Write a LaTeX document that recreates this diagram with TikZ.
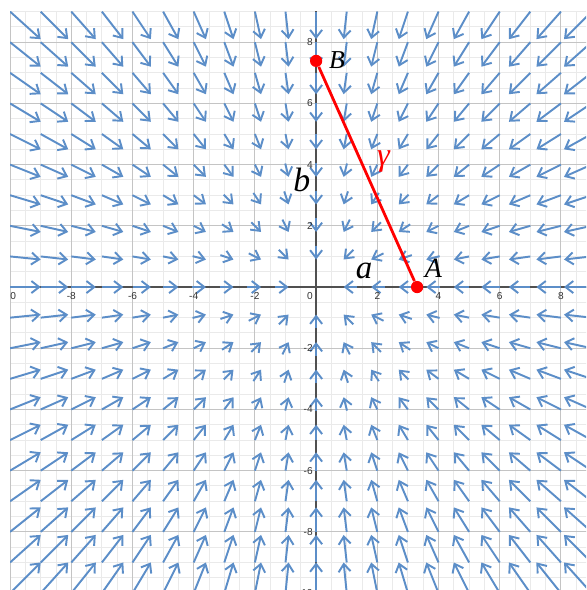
\documentclass[tikz,border=0pt]{standalone}
\usepackage{fontspec}
\setmainfont{Liberation Serif}
\newfontfamily\tickfont{Liberation Sans}
\usepackage{xcolor}
\usepackage{tikz}
\usetikzlibrary{arrows.meta, positioning}

\definecolor{fieldblue}{RGB}{92,142,200}
\definecolor{gridmajor}{RGB}{196,196,196}
\definecolor{gridminor}{RGB}{234,234,234}
\definecolor{axisgray}{RGB}{80,80,80}

\begin{document}
\begin{tikzpicture}[x=0.5cm, y=0.5cm,
        vec/.style={draw=fieldblue, line width=0.9pt, -{Straight Barb[length=3.6pt, width=5.6pt]}},
        pt/.style={circle, fill=red, inner sep=0pt, minimum size=0.2cm},
        ticklbl/.style={font=\tickfont\fontsize{4.7}{5}\selectfont, text=black!80, inner sep=0pt},
        lbl/.style={inner sep=0pt, font=\itshape}]

        \useasboundingbox (-10.33,-9.90) rectangle (8.82,9.38);

        \begin{scope}
        \clip (-10,-9.90) rectangle (8.82,9);
        \draw[gridminor, line width=0.45pt, step=0.5] (-11,-11) grid (10,10);
        \draw[gridmajor, line width=0.5pt, step=2] (-12,-12) grid (10,10);
        \draw[axisgray, line width=0.9pt] (-11,0) -- (10,0) (0,-11) -- (0,10);

        \foreach \x in {-10,...,9}
            \foreach \y in {-10,...,9} {
                \ifnum\numexpr(\x)*(\x)+(\y)*(\y)\relax>0
                    \pgfmathsetmacro\r{veclen(\x,\y)}
                    \pgfmathsetmacro\len{max(0.1*\r,0.45)/\r}
                    \draw[vec] ({0.9*\x+\len*\x},{0.9*\y+\len*\y}) -- ({0.9*\x},{0.9*\y});
                \fi
            }

        \foreach \t in {-8,-6,-4,-2,2,4,6,8}
            \node[ticklbl] (xl\t) at (\t,-0.29) {\t};
        \foreach \t in {-10,-8,-6,-4,-2,2,4,6,8}
            \node[ticklbl, anchor=east] (yl\t) at (-0.1,\t) {\t};
        \node[ticklbl] (xl0) at (-0.2,-0.29) {0};
        \node[ticklbl] (xlcut) at (-9.9,-0.29) {0};
        \end{scope}

        \node[pt] (ptA) at (3.3,0) {};
        \node[pt] (ptB) at (0,7.39) {};
        \path (ptB) edge[draw=red, line width=1.3pt] (ptA);

        \node[lbl, font=\itshape\fontsize{13}{14}\selectfont] (labA) at (3.83,0.62) {A};
        \node[lbl, font=\itshape\fontsize{12}{13}\selectfont] (labB) at (0.68,7.42) {B};
        \node[lbl, font=\itshape\fontsize{15.3}{16}\selectfont] (laba) at (1.57,0.52) {a};
        \node[lbl, font=\itshape\fontsize{15.7}{16}\selectfont] (labb) at (-0.47,3.5) {b};
        \node[lbl, red, font=\itshape\fontsize{15}{16}\selectfont] (labg) at (2.2,4.1) {γ};

    \end{tikzpicture}
\end{document}
